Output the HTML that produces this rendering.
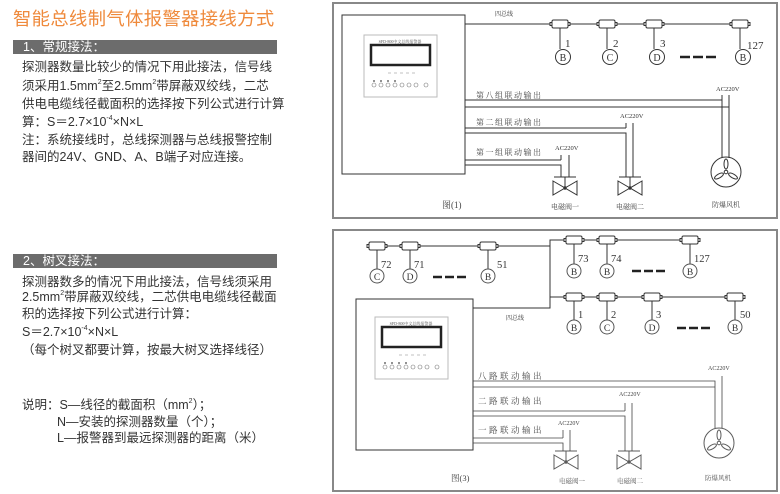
<!DOCTYPE html>
<html><head><meta charset="utf-8"><style>
body{margin:0;background:#fff;width:780px;height:494px;overflow:hidden;position:relative;font-family:"Liberation Sans","Noto Sans CJK SC",sans-serif}
.t{position:absolute;left:22px;font-size:12.5px;color:#333;white-space:nowrap;line-height:14px}
.bar{position:absolute;left:13px;width:264px;height:14px;background:#6c6c6c;color:#fff;font-size:12.5px;line-height:14px;padding-left:10px;box-sizing:border-box}
sup{font-size:7px;vertical-align:top;line-height:7px}
</style></head><body>
<div style="position:absolute;left:13px;top:5px;font-size:18.3px;color:#ef8a3c;letter-spacing:0.4px">智能总线制气体报警器接线方式</div>
<div class="bar" style="top:40px">1、常规接法：</div>
<div class="t" style="top:60px">探测器数量比较少的情况下用此接法，信号线</div>
<div class="t" style="top:79px">须采用1.5mm<sup>2</sup>至2.5mm<sup>2</sup>带屏蔽双绞线，二芯</div>
<div class="t" style="top:97px">供电电缆线径截面积的选择按下列公式进行计算</div>
<div class="t" style="top:115px">算：S＝2.7×10<sup>-4</sup>×N×L</div>
<div class="t" style="top:133px">注：系统接线时，总线探测器与总线报警控制</div>
<div class="t" style="top:150px">器间的24V、GND、A、B端子对应连接。</div>
<div class="bar" style="top:254px">2、树叉接法：</div>
<div class="t" style="top:275px">探测器数多的情况下用此接法，信号线须采用</div>
<div class="t" style="top:290px">2.5mm<sup>2</sup>带屏蔽双绞线，二芯供电电缆线径截面</div>
<div class="t" style="top:307px">积的选择按下列公式进行计算：</div>
<div class="t" style="top:325px">S＝2.7×10<sup>-4</sup>×N×L</div>
<div class="t" style="top:343px">（每个树叉都要计算，按最大树叉选择线径）</div>
<div class="t" style="top:398px">说明：S—线径的截面积（mm<sup>2</sup>）；</div>
<div class="t" style="top:415px;left:57px">N—安装的探测器数量（个）；</div>
<div class="t" style="top:431px;left:57px">L—报警器到最远探测器的距离（米）</div>

<svg width="780" height="494" style="position:absolute;left:0;top:0" font-family="Liberation Serif,Noto Serif CJK SC,serif">
<defs>
<g id="det" fill="#fff" stroke="#333" stroke-width="1">
<rect x="-8" y="-4" width="16" height="8" rx="1.5"/>
<rect x="-10" y="-1.5" width="2" height="3"/><rect x="8" y="-1.5" width="2" height="3"/>
<line x1="0" y1="4" x2="0" y2="25"/>
</g>
<g id="valve" fill="#fff" stroke="#333" stroke-width="1">
<line x1="-11" y1="-11" x2="11" y2="-11"/><line x1="0" y1="-11" x2="0" y2="0"/>
<polygon points="-12,-7 0,0 -12,7"/><polygon points="12,-7 0,0 12,7"/>
<circle cx="0" cy="0" r="1.2" fill="#333"/>
</g>
<g id="fan" fill="none" stroke="#333" stroke-width="1">
<circle r="15"/><circle r="1.8"/>
<ellipse cx="0" cy="-8" rx="2" ry="5"/>
<ellipse cx="7" cy="4" rx="2" ry="5" transform="rotate(120 7 4)"/>
<ellipse cx="-7" cy="4" rx="2" ry="5" transform="rotate(-120 -7 4)"/>
</g>
<g id="panel">
<rect x="0" y="0" width="73" height="62" fill="#fff" stroke="#bbb"/>
<text x="36" y="8" font-size="4" text-anchor="middle" fill="#555">SFD-800中文总线报警器</text>
<rect x="7" y="10" width="59" height="20" fill="#fff" stroke="#222" stroke-width="2.5"/>
<g fill="#fff" stroke="#777" stroke-width="0.6">
<circle cx="10" cy="50" r="2"/><circle cx="17" cy="50" r="2"/><circle cx="24" cy="50" r="2"/><circle cx="31" cy="50" r="2"/><circle cx="38" cy="50" r="2"/><circle cx="45" cy="50" r="2"/><circle cx="52" cy="50" r="2"/><circle cx="62" cy="50" r="2"/>
</g>
<g fill="#444"><circle cx="10" cy="46" r="0.9"/><circle cx="17" cy="46" r="0.9"/><circle cx="24" cy="46" r="0.9"/><circle cx="31" cy="46" r="0.9"/></g>
<g stroke="#999" stroke-width="0.6"><line x1="24" y1="38" x2="27" y2="38"/><line x1="30" y1="38" x2="33" y2="38"/><line x1="36" y1="38" x2="39" y2="38"/><line x1="42" y1="38" x2="45" y2="38"/><line x1="48" y1="38" x2="51" y2="38"/></g>
</g>
</defs>

<!-- Diagram 1 -->
<rect x="333" y="3" width="444" height="215" fill="none" stroke="#888" stroke-width="2"/>
<rect x="342" y="15" width="123" height="159" fill="#fff" stroke="#333"/>
<use href="#panel" x="364" y="35"/>
<line x1="465" y1="24" x2="748" y2="24" stroke="#333"/>
<text x="495" y="16" font-size="6" fill="#333">四总线</text>
<use href="#det" x="560" y="24"/><use href="#det" x="607" y="24"/><use href="#det" x="654" y="24"/><use href="#det" x="740" y="24"/>
<g fill="#fff" stroke="#333"><circle cx="563" cy="57" r="7.5"/><circle cx="610" cy="57" r="7.5"/><circle cx="657" cy="57" r="7.5"/><circle cx="743" cy="57" r="7.5"/></g>
<g font-size="10" text-anchor="middle" fill="#333"><text x="563" y="61">B</text><text x="610" y="61">C</text><text x="657" y="61">D</text><text x="743" y="61">B</text></g>
<g font-size="11" fill="#333"><text x="565" y="47">1</text><text x="613" y="47">2</text><text x="660" y="47">3</text><text x="747" y="49">127</text></g>
<g stroke="#222" stroke-width="2.5"><line x1="680" y1="57" x2="690" y2="57"/><line x1="693" y1="57" x2="703" y2="57"/><line x1="706" y1="57" x2="716" y2="57"/></g>
<g fill="none" stroke="#333">
<polyline points="465,100 722,100 722,158"/><polyline points="465,107 729,107"/><line x1="729" y1="95" x2="729" y2="158"/>
<polyline points="465,128 626,128"/><line x1="633" y1="123" x2="633" y2="177"/><polyline points="465,133 626,133 626,177"/>
<polyline points="465,160 561,160"/><line x1="569" y1="155" x2="569" y2="177"/><polyline points="465,165 561,165 561,177"/>
<line x1="722" y1="95" x2="722" y2="100"/><line x1="626" y1="123" x2="626" y2="128"/><line x1="561" y1="155" x2="561" y2="160"/>
</g>
<use href="#valve" x="565" y="188"/><use href="#valve" x="630" y="188"/><use href="#fan" x="726" y="172"/>
<g font-size="6.5" fill="#333"><text x="716" y="91">AC220V</text><text x="620" y="118">AC220V</text><text x="555" y="150">AC220V</text></g>
<g font-size="8" fill="#444" letter-spacing="1.5"><text x="476" y="98">第八组联动输出</text><text x="476" y="125">第二组联动输出</text><text x="476" y="155">第一组联动输出</text></g>
<g font-size="7" fill="#444" text-anchor="middle"><text x="565" y="209">电磁阀一</text><text x="630" y="209">电磁阀二</text><text x="726" y="207">防爆风机</text></g>
<text x="442" y="208" font-size="9" fill="#444">图(1)</text>

<!-- Diagram 2 -->
<rect x="333" y="230" width="444" height="261" fill="none" stroke="#888" stroke-width="2"/>
<rect x="356" y="299" width="117" height="151" fill="#fff" stroke="#333"/>
<use href="#panel" x="375" y="317"/>
<g fill="none" stroke="#333">
<polyline points="370,246 550,246"/><polyline points="473,308 550,308 550,240 700,240"/><line x1="550" y1="297" x2="740" y2="297"/>
</g>
<text x="506" y="320" font-size="6" fill="#333">四总线</text>
<use href="#det" x="377" y="246"/><use href="#det" x="410" y="246"/><use href="#det" x="488" y="246"/>
<use href="#det" x="574" y="240"/><use href="#det" x="607" y="240"/><use href="#det" x="690" y="240"/>
<use href="#det" x="574" y="297"/><use href="#det" x="607" y="297"/><use href="#det" x="652" y="297"/><use href="#det" x="735" y="297"/>
<g fill="#fff" stroke="#555">
<circle cx="377" cy="276" r="7"/><circle cx="410" cy="276" r="7"/><circle cx="488" cy="276" r="7"/>
<circle cx="574" cy="271" r="7"/><circle cx="607" cy="271" r="7"/><circle cx="690" cy="271" r="7"/>
<circle cx="574" cy="327" r="7"/><circle cx="607" cy="327" r="7"/><circle cx="652" cy="327" r="7"/><circle cx="735" cy="327" r="7"/>
</g>
<g font-size="9.5" text-anchor="middle" fill="#333">
<text x="377" y="280">C</text><text x="410" y="280">D</text><text x="488" y="280">B</text>
<text x="574" y="275">B</text><text x="607" y="275">B</text><text x="690" y="275">B</text>
<text x="574" y="331">B</text><text x="607" y="331">C</text><text x="652" y="331">D</text><text x="735" y="331">B</text>
</g>
<g font-size="10.5" fill="#333">
<text x="381" y="268">72</text><text x="414" y="268">71</text><text x="497" y="268">51</text>
<text x="578" y="262">73</text><text x="611" y="262">74</text><text x="694" y="262">127</text>
<text x="578" y="318">1</text><text x="611" y="318">2</text><text x="656" y="318">3</text><text x="740" y="318">50</text>
</g>
<g stroke="#222" stroke-width="2.5">
<line x1="433" y1="277" x2="442" y2="277"/><line x1="445" y1="277" x2="454" y2="277"/><line x1="457" y1="277" x2="466" y2="277"/>
<line x1="632" y1="271" x2="641" y2="271"/><line x1="644" y1="271" x2="653" y2="271"/><line x1="656" y1="271" x2="665" y2="271"/>
<line x1="677" y1="328" x2="686" y2="328"/><line x1="689" y1="328" x2="698" y2="328"/><line x1="701" y1="328" x2="710" y2="328"/>
</g>
<g fill="none" stroke="#444" stroke-width="0.8">
<polyline points="473,381 715,381 715,428"/><line x1="473" y1="387" x2="715" y2="387"/><line x1="722" y1="376" x2="722" y2="428"/>
<polyline points="473,411 625,411"/><line x1="632" y1="403" x2="632" y2="451"/><polyline points="473,416 625,416 625,451"/>
<polyline points="473,438 563,438"/><line x1="570" y1="430" x2="570" y2="451"/><polyline points="473,443 563,443 563,451"/>
<line x1="625" y1="403" x2="625" y2="411"/><line x1="563" y1="430" x2="563" y2="438"/>
</g>
<g opacity="0.8"><use href="#valve" x="566" y="462"/><use href="#valve" x="629" y="462"/><use href="#fan" x="719" y="443"/></g>
<g font-size="6" fill="#444"><text x="708" y="370">AC220V</text><text x="619" y="396">AC220V</text><text x="558" y="425">AC220V</text></g>
<g font-size="8.5" fill="#444" letter-spacing="2.5"><text x="478" y="379">八路联动输出</text><text x="478" y="404">二路联动输出</text><text x="478" y="433">一路联动输出</text></g>
<g font-size="6.5" fill="#555" text-anchor="middle"><text x="572" y="483">电磁阀一</text><text x="630" y="483">电磁阀二</text><text x="718" y="480">防爆风机</text></g>
<text x="451" y="481" font-size="8.5" fill="#444">图(3)</text>
</svg>
</body></html>
